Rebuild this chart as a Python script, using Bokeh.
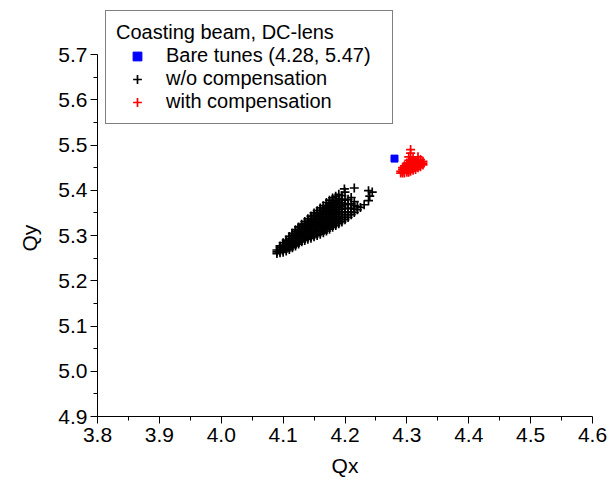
from bokeh.plotting import figure
from bokeh.models import Range1d, FixedTicker, PrintfTickFormatter, Legend, LegendItem, Title
from bokeh.embed import file_html
from bokeh.resources import INLINE

# ---- data ----
x_ticks = [3.8, 3.9, 4.0, 4.1, 4.2, 4.3, 4.4, 4.5, 4.6]
x_minor = [3.85, 3.95, 4.05, 4.15, 4.25, 4.35, 4.45, 4.55]
y_ticks = [4.9, 5.0, 5.1, 5.2, 5.3, 5.4, 5.5, 5.6, 5.7]
y_minor = [4.95, 5.05, 5.15, 5.25, 5.35, 5.45, 5.55, 5.65]

bare_qx = [4.28]
bare_qy = [5.47]

# w/o compensation: tune points, grouped by Qx column (Qx value, list of Qy values)
wo_col_qx = [4.090, 4.095, 4.100, 4.105, 4.110, 4.115, 4.120, 4.125, 4.130, 4.135,
             4.140, 4.145, 4.150, 4.155, 4.160, 4.165, 4.170, 4.175, 4.180, 4.185,
             4.190, 4.195, 4.200, 4.205, 4.210, 4.215, 4.220, 4.225,
             4.199, 4.238, 4.244, 4.240, 4.231]
wo_col_qy = [
    [5.260, 5.264, 5.268],
    [5.262, 5.266, 5.270, 5.274, 5.277],
    [5.263, 5.267, 5.271, 5.275, 5.279, 5.284],
    [5.266, 5.270, 5.274, 5.278, 5.282, 5.286, 5.290],
    [5.269, 5.273, 5.277, 5.281, 5.285, 5.289, 5.293, 5.298],
    [5.273, 5.277, 5.281, 5.285, 5.289, 5.293, 5.297, 5.301, 5.305],
    [5.277, 5.281, 5.285, 5.289, 5.293, 5.297, 5.301, 5.305, 5.309, 5.313],
    [5.281, 5.285, 5.289, 5.293, 5.297, 5.301, 5.305, 5.309, 5.313, 5.319],
    [5.286, 5.290, 5.294, 5.298, 5.302, 5.306, 5.310, 5.314, 5.318, 5.322, 5.325],
    [5.289, 5.293, 5.297, 5.301, 5.305, 5.309, 5.313, 5.317, 5.321, 5.325, 5.331],
    [5.292, 5.296, 5.300, 5.304, 5.308, 5.312, 5.316, 5.320, 5.324, 5.328, 5.332, 5.337],
    [5.294, 5.298, 5.302, 5.306, 5.310, 5.314, 5.318, 5.322, 5.326, 5.330, 5.334, 5.338, 5.343],
    [5.297, 5.301, 5.305, 5.309, 5.313, 5.317, 5.321, 5.325, 5.329, 5.333, 5.337, 5.341, 5.345, 5.350],
    [5.300, 5.304, 5.308, 5.312, 5.316, 5.320, 5.324, 5.328, 5.332, 5.336, 5.340, 5.344, 5.348, 5.355],
    [5.303, 5.307, 5.311, 5.315, 5.319, 5.323, 5.327, 5.331, 5.335, 5.339, 5.343, 5.347, 5.351, 5.356, 5.361],
    [5.306, 5.310, 5.314, 5.318, 5.322, 5.326, 5.330, 5.334, 5.338, 5.342, 5.346, 5.350, 5.354, 5.360, 5.366],
    [5.310, 5.314, 5.318, 5.322, 5.326, 5.330, 5.334, 5.338, 5.342, 5.346, 5.350, 5.354, 5.358, 5.362, 5.366, 5.373],
    [5.314, 5.318, 5.322, 5.326, 5.330, 5.334, 5.338, 5.342, 5.346, 5.350, 5.354, 5.358, 5.362, 5.366, 5.370, 5.378],
    [5.318, 5.322, 5.326, 5.330, 5.334, 5.338, 5.342, 5.346, 5.350, 5.354, 5.358, 5.362, 5.366, 5.370, 5.374, 5.383],
    [5.322, 5.326, 5.330, 5.334, 5.338, 5.342, 5.346, 5.350, 5.354, 5.358, 5.362, 5.366, 5.370, 5.374, 5.378, 5.387],
    [5.326, 5.330, 5.334, 5.338, 5.342, 5.346, 5.350, 5.354, 5.358, 5.362, 5.366, 5.370, 5.376, 5.382, 5.391],
    [5.330, 5.335, 5.340, 5.346, 5.352, 5.358, 5.365, 5.372, 5.380, 5.388],
    [5.335, 5.340, 5.346, 5.352, 5.360, 5.368, 5.378, 5.396],
    [5.340, 5.346, 5.352, 5.360, 5.370, 5.380],
    [5.346, 5.352, 5.360, 5.370, 5.384],
    [5.351, 5.358, 5.366, 5.375, 5.405],
    [5.357, 5.364],
    [5.362],
    [5.403],
    [5.399, 5.377],
    [5.396],
    [5.387],
    [5.368],
]

# with compensation: tune points, grouped by Qx column
with_col_qx = [4.290, 4.293, 4.296, 4.300, 4.303, 4.306, 4.310, 4.314, 4.318, 4.322, 4.326]
with_col_qy = [
    [5.438, 5.442],
    [5.438, 5.442, 5.446, 5.450],
    [5.438, 5.442, 5.446, 5.450, 5.454],
    [5.440, 5.444, 5.448, 5.452, 5.456, 5.460],
    [5.440, 5.444, 5.448, 5.452, 5.456, 5.460, 5.466, 5.474],
    [5.442, 5.446, 5.450, 5.454, 5.458, 5.462, 5.466, 5.482, 5.490],
    [5.444, 5.448, 5.452, 5.456, 5.460, 5.464, 5.470],
    [5.446, 5.450, 5.454, 5.458, 5.462, 5.466],
    [5.450, 5.454, 5.458, 5.462, 5.466, 5.474],
    [5.452, 5.456, 5.460, 5.464, 5.468],
    [5.456, 5.460, 5.464],
]

# flatten the column tables into point lists
wo_qx = [cx for cx, ys in zip(wo_col_qx, wo_col_qy) for _ in ys]
wo_qy = [y for ys in wo_col_qy for y in ys]
with_qx = [cx for cx, ys in zip(with_col_qx, with_col_qy) for _ in ys]
with_qy = [y for ys in with_col_qy for y in ys]

FONT = "Liberation Sans"

p = figure(width=609, height=484, output_backend="svg", toolbar_location=None,
           x_range=Range1d(3.8, 4.6), y_range=Range1d(4.9, 5.815),
           min_border_left=97, min_border_right=17, min_border_top=2, min_border_bottom=68,
           background_fill_color="white", border_fill_color="white")
p.outline_line_color = None
p.xgrid.visible = False
p.ygrid.visible = False

r_wo = p.scatter(x=wo_qx, y=wo_qy, marker="cross", size=9, line_color="black", line_width=1.7)
r_w = p.scatter(x=with_qx, y=with_qy, marker="cross", size=9, line_color="red", line_width=1.7)
r_bare = p.scatter(x=bare_qx, y=bare_qy, marker="square", size=7, fill_color="blue", line_color="blue")

p.xaxis.ticker = FixedTicker(ticks=x_ticks, minor_ticks=x_minor)
p.yaxis.ticker = FixedTicker(ticks=y_ticks, minor_ticks=y_minor)
p.xaxis.formatter = PrintfTickFormatter(format="%.1f")
p.yaxis.formatter = PrintfTickFormatter(format="%.1f")
p.yaxis.bounds = (4.9, 5.7)
p.xaxis.axis_label = "Qx"
for ax in (p.xaxis[0], p.yaxis[0]):
    ax.axis_line_color = "black"
    ax.axis_line_width = 1
    ax.major_tick_line_color = "black"
    ax.minor_tick_line_color = "black"
    ax.major_tick_out = 7
    ax.major_tick_in = 0
    ax.minor_tick_out = 4
    ax.minor_tick_in = 0
    ax.major_label_text_font = FONT
    ax.major_label_text_font_size = "21px"
    ax.major_label_text_color = "black"
    ax.axis_label_text_font = FONT
    ax.axis_label_text_font_size = "21px"
    ax.axis_label_text_font_style = "normal"
    ax.axis_label_text_color = "black"
p.xaxis.major_label_standoff = 4
p.yaxis.major_label_standoff = 3
p.xaxis.axis_label_standoff = 9

# y-axis title, centred on the drawn part of the axis (4.9 .. 5.7)
qy_title = Title(text="Qy", align="left", offset=165, standoff=30,
                 text_font=FONT, text_font_size="21px", text_font_style="normal",
                 text_color="black")
p.add_layout(qy_title, "left")

legend = Legend(
    items=[LegendItem(label="Bare tunes (4.28, 5.47)", renderers=[r_bare]),
           LegendItem(label="w/o compensation", renderers=[r_wo]),
           LegendItem(label="with compensation", renderers=[r_w])],
    title="Coasting beam, DC-lens",
    location="top_left", margin=8, padding=10, spacing=0, title_standoff=0,
    glyph_width=42, glyph_height=22, label_standoff=8, label_width=216,
    border_line_color="black", border_line_width=1,
    background_fill_color="white", background_fill_alpha=1,
    label_text_font=FONT, label_text_font_size="20px", label_text_color="black",
    title_text_font=FONT, title_text_font_size="20px", title_text_font_style="normal",
    title_text_color="black",
)
p.add_layout(legend, "center")

open("out.html", "w").write(file_html(p, INLINE))
